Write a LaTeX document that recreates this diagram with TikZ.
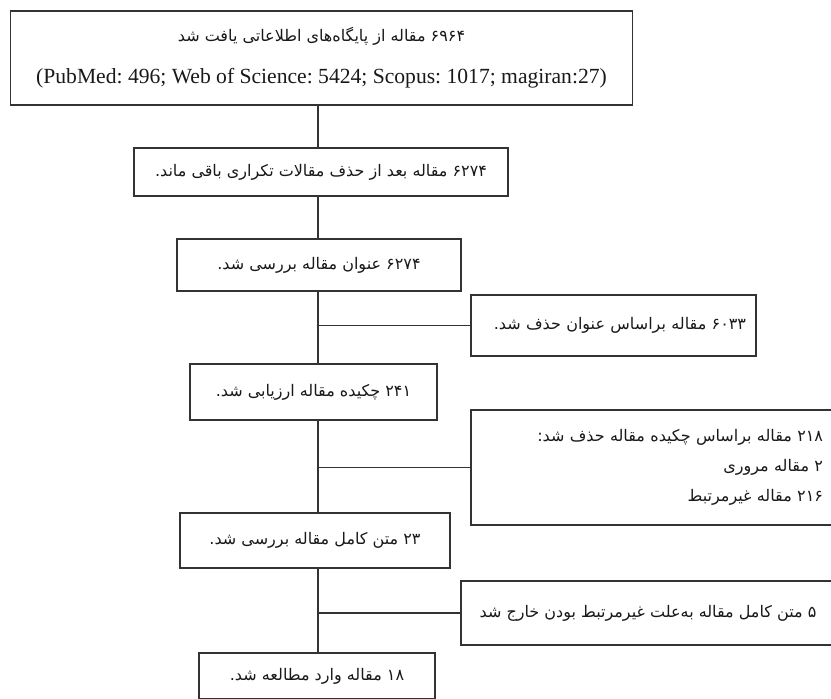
\documentclass[tikz,border=0pt]{standalone}
\usepackage{fontspec}
\setmainfont{Liberation Serif}
\newfontfamily\farsifont[Script=Arabic]{DejaVu Sans}
\TeXXeTstate=1
\usetikzlibrary{positioning}

\newcommand{\fa}[1]{\beginR #1\endR}

\tikzset{
  stage/.style={draw=black!80, line width=0.8pt, rectangle, inner sep=0pt,
    align=center, text=black!90, font=\farsifont\fontsize{8}{15}\selectfont},
  side/.style={stage, align=right, inner xsep=5pt},
  link/.style={draw=black!80, line width=0.8pt},
}

\begin{document}
\frenchspacing
\begin{tikzpicture}[x=0.5pt, y=-0.5pt]
  \useasboundingbox (0,0) rectangle (831,698);
  \coordinate (trunk) at (318,0);

  % main stages
  \node[stage, minimum width=311pt, minimum height=47pt,
        font=\farsifont\fontsize{8}{21}\selectfont] (found) at (321.5,58)
    {\fa{۶۹۶۴ مقاله از پایگاه‌های اطلاعاتی یافت شد}\\
     {\rmfamily\fontsize{10.8}{13}\selectfont\beginL(PubMed: 496; Web of Science: 5424; Scopus: 1017; magiran:27)\endL}};
  \node[stage, minimum width=187pt, minimum height=24pt] (dedup) at (321,172)
    {\fa{۶۲۷۴ مقاله بعد از حذف مقالات تکراری باقی ماند.}};
  \node[stage, minimum width=142pt, minimum height=26pt] (titles) at (319,265)
    {\fa{۶۲۷۴ عنوان مقاله بررسی شد.}};
  \node[stage, minimum width=123.5pt, minimum height=28pt] (abstracts) at (313.5,392)
    {\fa{۲۴۱ چکیده مقاله ارزیابی شد.}};
  \node[stage, minimum width=135pt, minimum height=27.5pt] (fulltext) at (315,540.5)
    {\fa{۲۳ متن کامل مقاله بررسی شد.}};
  \node[stage, minimum width=118pt, minimum height=23pt] (included) at (317,676)
    {\fa{۱۸ مقاله وارد مطالعه شد.}};

  % exclusions
  \node[side, text width=132.5pt, minimum height=30.5pt] (xtitle) at (613.5,325.5)
    {\fa{۶۰۳۳ مقاله براساس عنوان حذف شد.}};
  \node[side, text width=171pt, minimum height=57.5pt] (xabstract) at (652,467.5)
    {\fa{۲۱۸ مقاله براساس چکیده مقاله حذف شد:}\\
     \fa{۲ مقاله مروری}\\
     \fa{۲۱۶ مقاله غیرمرتبط}};
  \node[stage, minimum width=187pt, minimum height=32pt] (xfull) at (648,613)
    {\fa{۵ متن کامل مقاله به‌علت غیرمرتبط بودن خارج شد}};

  % trunk
  \draw[link] (found.south -| trunk) -- (dedup.north -| trunk);
  \draw[link] (dedup.south -| trunk) -- (titles.north -| trunk);
  \draw[link] (titles.south -| trunk) -- (abstracts.north -| trunk);
  \draw[link] (abstracts.south -| trunk) -- (fulltext.north -| trunk);
  \draw[link] (fulltext.south -| trunk) -- (included.north -| trunk);

  % branches
  \draw[link] (xtitle.west -| trunk) -- (xtitle.west);
  \draw[link] (xabstract.west -| trunk) -- (xabstract.west);
  \draw[link] (xfull.west -| trunk) -- (xfull.west);
\end{tikzpicture}
\end{document}
